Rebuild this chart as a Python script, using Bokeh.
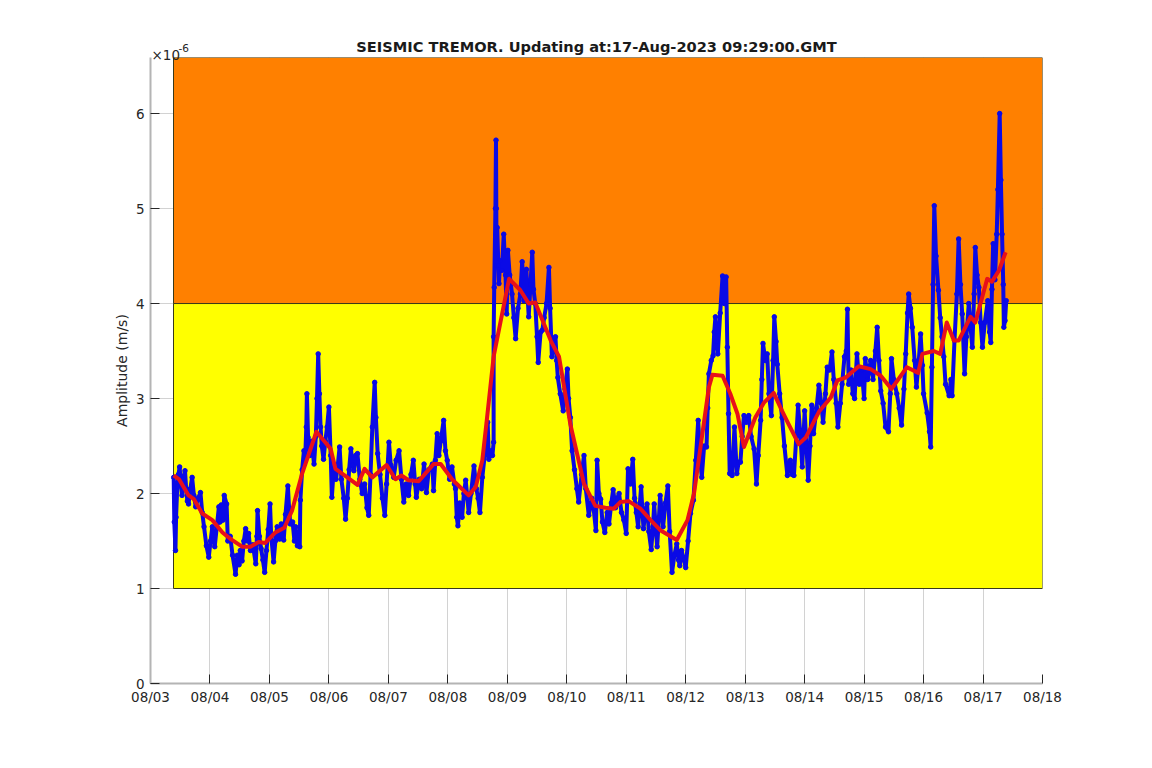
from bokeh.plotting import figure
from bokeh.models import Label, FixedTicker
from bokeh.embed import file_html
from bokeh.resources import INLINE

tick_days = list(range(16))
tick_labels = ["08/%02d" % d for d in range(3, 19)]
amp_ticks = [0, 1, 2, 3, 4, 5, 6]

zone_bottom = [1, 4]
zone_top = [4, 6.59]
zone_start = [0.387, 0.387]
zone_end = [15, 15]
zone_colors = ["#ffff00", "#ff8000"]

# blue trace, (day since 08/03, amplitude in 1e-6 m/s), read day by day
aug03 = [(.39,2.17),(.40,1.70),(.42,1.40),(.43,1.75),(.45,2.07),(.47,2.20),(.49,2.28),(.51,2.10),(.53,1.98),(.55,2.15),(.58,2.24),(.60,2.05),(.62,1.92),(.64,1.89),(.67,2.05),(.70,2.17),(.73,1.98),(.76,1.86),(.80,1.95),(.84,2.01),(.87,1.80),(.90,1.65),(.94,1.45),(.98,1.33)]
aug04 = [(1.01,1.50),(1.04,1.65),(1.06,1.52),(1.08,1.44),(1.12,1.68),(1.15,1.86),(1.17,1.70),(1.19,1.88),(1.22,1.72),(1.24,1.98),(1.28,1.89),(1.30,1.50),(1.34,1.55),(1.38,1.35),(1.43,1.15),(1.46,1.35),(1.49,1.25),(1.51,1.40),(1.54,1.29),(1.57,1.50),(1.60,1.63),(1.63,1.50),(1.65,1.58),(1.68,1.40),(1.72,1.46),(1.77,1.26),(1.79,1.55),(1.80,1.82),(1.83,1.55),(1.86,1.42),(1.89,1.30),(1.92,1.17),(1.95,1.40),(1.98,1.62)]
aug05 = [(2.01,1.89),(2.03,1.55),(2.07,1.28),(2.10,1.50),(2.13,1.65),(2.17,1.52),(2.20,1.68),(2.24,1.51),(2.27,1.78),(2.31,2.08),(2.33,1.85),(2.35,1.68),(2.39,1.70),(2.42,1.50),(2.44,1.65),(2.47,1.45),(2.51,1.44),(2.52,1.93),(2.55,2.25),(2.58,2.45),(2.60,2.35),(2.62,2.70),(2.63,3.05),(2.65,2.59),(2.68,2.40),(2.71,2.55),(2.75,2.31),(2.78,2.60),(2.80,3.00),(2.82,3.47),(2.84,3.05),(2.86,2.70),(2.88,2.50),(2.91,2.36),(2.94,2.55),(2.97,2.70)]
aug06 = [(3.00,2.91),(3.03,2.40),(3.05,1.96),(3.08,2.25),(3.12,2.15),(3.15,2.30),(3.18,2.49),(3.21,2.15),(3.25,1.95),(3.28,1.73),(3.31,1.95),(3.34,2.25),(3.37,2.47),(3.40,2.30),(3.42,2.24),(3.45,2.40),(3.48,2.42),(3.52,2.15),(3.56,2.00),(3.60,2.10),(3.64,1.85),(3.67,1.77),(3.70,2.20),(3.73,2.70),(3.77,3.17),(3.79,2.80),(3.82,2.42),(3.86,2.20),(3.90,1.95),(3.94,1.77),(3.97,2.10)]
aug07 = [(4.01,2.54),(4.04,2.30),(4.09,2.17),(4.13,2.35),(4.18,2.45),(4.22,2.15),(4.26,1.91),(4.30,2.10),(4.34,1.98),(4.38,2.20),(4.42,2.35),(4.45,2.10),(4.47,1.96),(4.52,2.15),(4.56,2.05),(4.60,2.31),(4.64,2.01),(4.68,2.25),(4.74,2.31),(4.76,2.03),(4.79,2.35),(4.82,2.63),(4.85,2.40),(4.88,2.55),(4.93,2.77),(4.96,2.45),(4.99,2.35)]
aug08 = [(5.03,2.15),(5.07,2.28),(5.11,2.10),(5.13,2.05),(5.15,1.75),(5.17,1.66),(5.20,1.90),(5.24,1.75),(5.27,2.00),(5.30,2.14),(5.33,1.95),(5.35,1.80),(5.39,2.00),(5.44,2.29),(5.48,2.05),(5.51,1.95),(5.54,1.80),(5.58,2.17),(5.62,2.40),(5.67,2.75),(5.69,2.36),(5.73,2.45),(5.75,2.40),(5.77,2.54),(5.77,3.65),(5.78,4.17),(5.80,5.00),(5.81,5.72),(5.815,5.00),(5.82,4.40),(5.83,4.80),(5.85,4.40),(5.86,4.21),(5.88,4.45),(5.91,4.35),(5.94,4.73),(5.97,4.30),(5.99,3.89)]
aug09 = [(6.01,4.56),(6.04,4.30),(6.08,4.10),(6.11,3.85),(6.14,3.63),(6.18,3.95),(6.22,4.10),(6.25,4.44),(6.28,4.03),(6.32,4.36),(6.36,3.86),(6.39,4.20),(6.42,4.54),(6.44,4.15),(6.47,4.00),(6.50,3.65),(6.52,3.38),(6.56,3.70),(6.59,3.72),(6.62,3.85),(6.66,4.00),(6.70,4.38),(6.72,3.95),(6.75,3.44),(6.78,3.60),(6.81,3.65),(6.83,3.40),(6.85,3.22),(6.89,3.05),(6.94,2.87),(6.97,3.10)]
aug10 = [(7.01,3.31),(7.03,3.00),(7.06,2.80),(7.09,2.45),(7.13,2.25),(7.17,2.05),(7.20,1.91),(7.25,2.20),(7.29,2.40),(7.32,2.05),(7.37,1.77),(7.42,1.95),(7.45,1.85),(7.49,1.61),(7.51,2.35),(7.54,2.00),(7.57,1.94),(7.60,1.70),(7.64,1.59),(7.68,1.80),(7.71,1.68),(7.75,1.90),(7.78,2.04),(7.82,1.85),(7.85,1.95),(7.88,2.00),(7.92,1.80),(7.96,1.72),(8.00,1.58)]
aug11 = [(8.03,2.26),(8.07,2.10),(8.11,2.36),(8.14,1.95),(8.17,1.80),(8.20,1.65),(8.23,1.90),(8.25,2.07),(8.27,1.85),(8.29,1.63),(8.32,1.80),(8.35,1.89),(8.38,1.60),(8.42,1.41),(8.45,1.65),(8.47,1.89),(8.50,1.60),(8.52,1.44),(8.55,1.75),(8.57,1.98),(8.60,1.80),(8.62,1.65),(8.66,1.90),(8.70,2.08),(8.73,1.60),(8.77,1.17),(8.81,1.35),(8.85,1.47),(8.88,1.30),(8.90,1.24),(8.93,1.40),(8.97,1.30)]
aug12 = [(9.00,1.22),(9.04,1.50),(9.08,1.79),(9.13,1.93),(9.17,2.35),(9.21,2.77),(9.24,2.40),(9.27,2.17),(9.31,2.50),(9.35,2.49),(9.37,2.90),(9.39,3.26),(9.43,3.40),(9.46,3.45),(9.48,3.70),(9.50,3.86),(9.52,3.60),(9.54,3.47),(9.58,3.90),(9.62,4.29),(9.65,4.00),(9.68,4.28),(9.70,3.54),(9.72,2.84),(9.74,2.21),(9.78,2.19),(9.82,2.70),(9.86,2.21),(9.89,2.33),(9.92,2.33),(9.95,2.60),(9.98,2.82)]
aug13 = [(10.02,2.75),(10.06,2.82),(10.10,2.60),(10.15,2.47),(10.19,2.10),(10.22,2.40),(10.26,2.77),(10.28,3.20),(10.30,3.58),(10.34,3.40),(10.37,3.47),(10.40,3.05),(10.44,2.82),(10.47,3.40),(10.49,3.86),(10.52,3.60),(10.54,3.36),(10.58,3.05),(10.62,2.80),(10.66,2.50),(10.71,2.19),(10.76,2.35),(10.79,2.20),(10.82,2.19),(10.86,2.60),(10.89,2.93),(10.93,2.60),(10.96,2.28)]
aug14 = [(11.00,2.87),(11.03,2.50),(11.06,2.14),(11.09,2.50),(11.12,2.93),(11.15,2.63),(11.20,2.90),(11.24,3.14),(11.28,2.95),(11.31,2.75),(11.35,3.05),(11.38,3.33),(11.42,3.30),(11.46,3.49),(11.49,3.20),(11.53,2.95),(11.56,2.70),(11.60,2.95),(11.63,3.15),(11.67,3.44),(11.70,3.50),(11.72,3.94),(11.74,3.15),(11.78,3.30),(11.81,3.05),(11.84,3.00),(11.88,3.47),(11.92,3.15),(11.96,3.30)]
aug15 = [(12.00,3.00),(12.02,3.42),(12.06,3.20),(12.11,3.40),(12.15,3.20),(12.19,3.50),(12.22,3.75),(12.25,3.40),(12.28,3.08),(12.32,2.95),(12.36,2.70),(12.41,2.65),(12.44,3.05),(12.46,3.42),(12.50,3.20),(12.55,3.05),(12.59,2.90),(12.63,2.72),(12.67,3.10),(12.70,3.47),(12.73,3.90),(12.75,4.10),(12.78,3.95),(12.81,3.75),(12.85,3.40),(12.88,3.12),(12.92,3.40),(12.95,3.68),(12.98,3.35)]
aug16 = [(13.00,3.05),(13.06,2.85),(13.10,2.65),(13.12,2.49),(13.14,3.33),(13.16,4.20),(13.18,5.03),(13.21,4.50),(13.25,4.14),(13.28,3.85),(13.31,3.65),(13.34,3.44),(13.37,3.15),(13.43,3.03),(13.46,3.20),(13.48,3.03),(13.52,3.61),(13.56,4.10),(13.59,4.68),(13.62,4.20),(13.65,3.89),(13.69,3.26),(13.72,3.65),(13.76,4.00),(13.79,3.75),(13.82,3.54),(13.85,4.10),(13.87,4.59),(13.90,4.30),(13.93,4.17),(13.96,3.80)]
aug17 = [(13.99,3.54),(14.03,3.80),(14.08,4.03),(14.11,3.70),(14.13,3.59),(14.15,4.15),(14.17,4.63),(14.20,4.25),(14.23,4.73),(14.25,5.20),(14.28,6.00),(14.30,5.30),(14.32,4.73),(14.34,4.20),(14.35,3.75),(14.37,3.82),(14.39,4.03)]

red_days = [
    .39,.48,.64,.73,.87,1.04,1.21,1.35,1.54,1.68,1.82,1.93,2.10,2.25,2.38,2.55,2.79,2.91,3.03,3.11,3.31,3.48,3.60,3.73,
    3.97,4.12,4.22,4.34,4.51,4.76,4.88,5.07,5.35,5.47,5.58,5.66,5.77,5.89,6.03,6.22,6.36,6.47,6.73,6.87,7.06,7.29,7.48,
    7.65,7.79,7.90,8.04,8.24,8.41,8.58,8.85,9.03,9.14,9.39,9.45,9.62,9.75,9.87,9.98,10.17,10.32,10.48,10.62,10.73,10.90,
    11.02,11.24,11.44,11.55,11.69,11.91,12.11,12.28,12.46,12.72,12.91,12.98,13.17,13.28,13.39,13.51,13.59,13.79,13.87,
    14.07,14.15,14.27,14.38,
]
red_amp = [
    2.19,2.15,1.98,1.94,1.79,1.72,1.59,1.52,1.44,1.44,1.49,1.48,1.59,1.64,1.82,2.21,2.65,2.56,2.47,2.26,2.17,2.09,2.26,2.17,
    2.30,2.15,2.19,2.14,2.13,2.31,2.31,2.15,1.98,2.07,2.35,2.80,3.44,3.82,4.26,4.14,4.00,4.01,3.61,3.44,2.73,2.10,1.87,
    1.85,1.84,1.91,1.92,1.84,1.72,1.61,1.51,1.72,2.00,3.12,3.25,3.24,3.05,2.84,2.49,2.80,2.96,3.06,2.87,2.73,2.52,
    2.59,2.86,3.01,3.19,3.22,3.34,3.31,3.24,3.10,3.33,3.27,3.47,3.50,3.47,3.80,3.61,3.61,3.86,3.80,
    4.26,4.23,4.35,4.54,
]

blue_trace = aug03 + aug04 + aug05 + aug06 + aug07 + aug08 + aug09 + aug10 + aug11 + aug12 + aug13 + aug14 + aug15 + aug16 + aug17
blue_days = [d for d, a in blue_trace]
blue_amp = [a for d, a in blue_trace]

FONT = "DejaVu Sans"
GREY = "#262626"

p = figure(width=1136, height=752, x_range=(0, 15), y_range=(0, 6.59),
           output_backend="svg", toolbar_location=None,
           min_border_left=150, min_border_right=94, min_border_top=57, min_border_bottom=69,
           background_fill_color="white", outline_line_color=None)

p.quad(left=zone_start, right=zone_end, bottom=zone_bottom, top=zone_top,
       fill_color=zone_colors, line_color="#3a3a1a", line_width=1)
p.line(blue_days, blue_amp, line_color="#0a0ae6", line_width=4, line_join="round")
p.scatter(blue_days, blue_amp, size=4.5, color="#0a0ae6")
p.line(red_days, red_amp, line_color="#e8101a", line_width=4, line_join="round")

p.xaxis.ticker = FixedTicker(ticks=tick_days)
p.xaxis.major_label_overrides = {d: s for d, s in zip(tick_days, tick_labels)}
p.yaxis.ticker = FixedTicker(ticks=amp_ticks)
p.yaxis.major_label_overrides = {v: str(v) for v in amp_ticks}
p.yaxis.axis_label = "Amplitude (m/s)"
p.yaxis.axis_label_text_font = FONT
p.yaxis.axis_label_text_font_size = "14px"
p.yaxis.axis_label_text_font_style = "normal"
p.yaxis.axis_label_text_color = GREY
p.yaxis.axis_label_standoff = 3

for ax in (p.xaxis[0], p.yaxis[0]):
    ax.major_tick_in = 9
    ax.major_tick_out = 0
    ax.minor_tick_in = 0
    ax.minor_tick_out = 0
    ax.major_tick_line_color = GREY
    ax.major_tick_line_width = 1
    ax.axis_line_color = "#b4b4b4"
    ax.axis_line_width = 2
    ax.major_label_text_font = FONT
    ax.major_label_text_font_size = "13.5px"
    ax.major_label_text_color = GREY
p.xaxis.major_label_standoff = 5
p.yaxis.major_label_standoff = 6

p.xgrid.ticker = FixedTicker(ticks=tick_days)
p.ygrid.ticker = FixedTicker(ticks=amp_ticks)
p.grid.grid_line_color = "#d2d2d2"
p.grid.grid_line_width = 1

p.title.text = "SEISMIC TREMOR. Updating at:17-Aug-2023 09:29:00.GMT"
p.title.align = "center"
p.title.text_font = FONT
p.title.text_font_size = "14.6px"
p.title.text_font_style = "bold"
p.title.text_color = "#1a1a1a"
p.title.standoff = -42

p.add_layout(Label(x=151, y=54, x_units="canvas", y_units="canvas", text="×10",
                   text_font=FONT, text_font_size="13.5px", text_color=GREY,
                   text_baseline="alphabetic"), "above")
p.add_layout(Label(x=178, y=47, x_units="canvas", y_units="canvas", text="-6",
                   text_font=FONT, text_font_size="10.5px", text_color=GREY,
                   text_baseline="alphabetic"), "above")

open("out.html", "w").write(file_html(p, INLINE))
